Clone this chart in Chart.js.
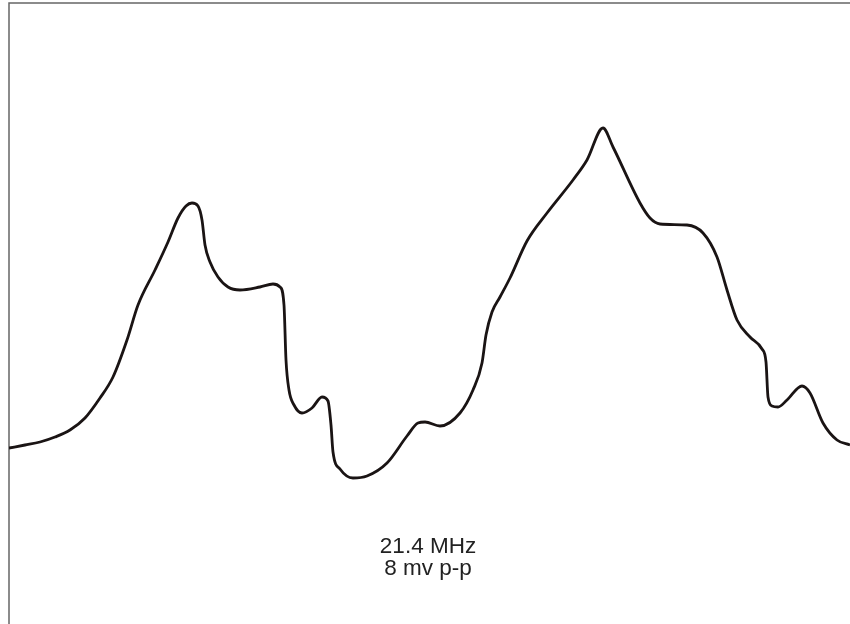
<!DOCTYPE html>
<html>
<head>
<meta charset="utf-8">
<script src="https://cdn.jsdelivr.net/npm/chart.js@4"></script>
<style>
html,body{margin:0;padding:0;background:#fff;}
#wrap{position:relative;width:850px;height:624px;}
</style>
</head>
<body>
<div id="wrap"><canvas id="c" width="850" height="624"></canvas></div>
<script>
// Horizontal sweep position (arbitrary units) and trace amplitude (arbitrary units)
const sweep = [9,25,40,55,70,85,100,113,127,138,155,168,178,186,192,198,202,205,210,218,228,240,260,273,280,284,286,289,294,302,312,322,328,331,333,340,353,367,387,407,418,425,440,460,473,482,486,492,500,510,527,547,573,587,603,613,640,650,660,687,703,717,727,737,750,762,766,768,772,778,787,802,810,823,837,850];
const amplitude = [176,179,182,187,194,206,226,247,284,319,354,382,406,418,421,418,404,379,362,347,337,334,337,340,337,319,264,234,219,211,216,227,223,199,172,155,146,148,161,188,201,202,198,211,234,261,289,312,327,346,383,411,444,464,496,477,421,406,400,399,391,367,334,304,287,275,262,227,218,217,224,238,231,201,184,179];
const labelLines = ["21.4 MHz", "8 mv p-p"];

const points = sweep.map((x, i) => ({x: x, y: amplitude[i]}));

const framePlugin = {
  id: 'frame',
  beforeDatasetsDraw(chart) {
    const {ctx, chartArea: a} = chart;
    ctx.save();
    ctx.strokeStyle = '#666666';
    ctx.lineWidth = 1.5;
    ctx.beginPath();
    ctx.moveTo(a.left, chart.height);
    ctx.lineTo(a.left, a.top);
    ctx.lineTo(chart.width, a.top);
    ctx.stroke();
    ctx.restore();
  },
  afterDraw(chart) {
    const {ctx} = chart;
    ctx.save();
    ctx.fillStyle = '#222222';
    ctx.font = '22.5px "Liberation Sans", Arial, sans-serif';
    ctx.textAlign = 'center';
    ctx.textBaseline = 'alphabetic';
    ctx.fillText(labelLines[0], 428, 553);
    ctx.fillText(labelLines[1], 428, 575);
    ctx.restore();
  }
};

new Chart(document.getElementById('c'), {
  type: 'line',
  data: {
    datasets: [{
      data: points,
      borderColor: '#1a1414',
      borderWidth: 2.8,
      pointRadius: 0,
      fill: false,
      cubicInterpolationMode: 'monotone'
    }]
  },
  options: {
    responsive: false,
    animation: false,
    devicePixelRatio: 1,
    layout: {padding: {left: 9, top: 3, right: 0, bottom: 0}},
    plugins: {legend: {display: false}, tooltip: {enabled: false}, title: {display: false}},
    scales: {
      x: {type: 'linear', min: 9, max: 850, display: false},
      y: {type: 'linear', min: 0, max: 621, display: false}
    }
  },
  plugins: [framePlugin]
});
</script>
</body>
</html>
